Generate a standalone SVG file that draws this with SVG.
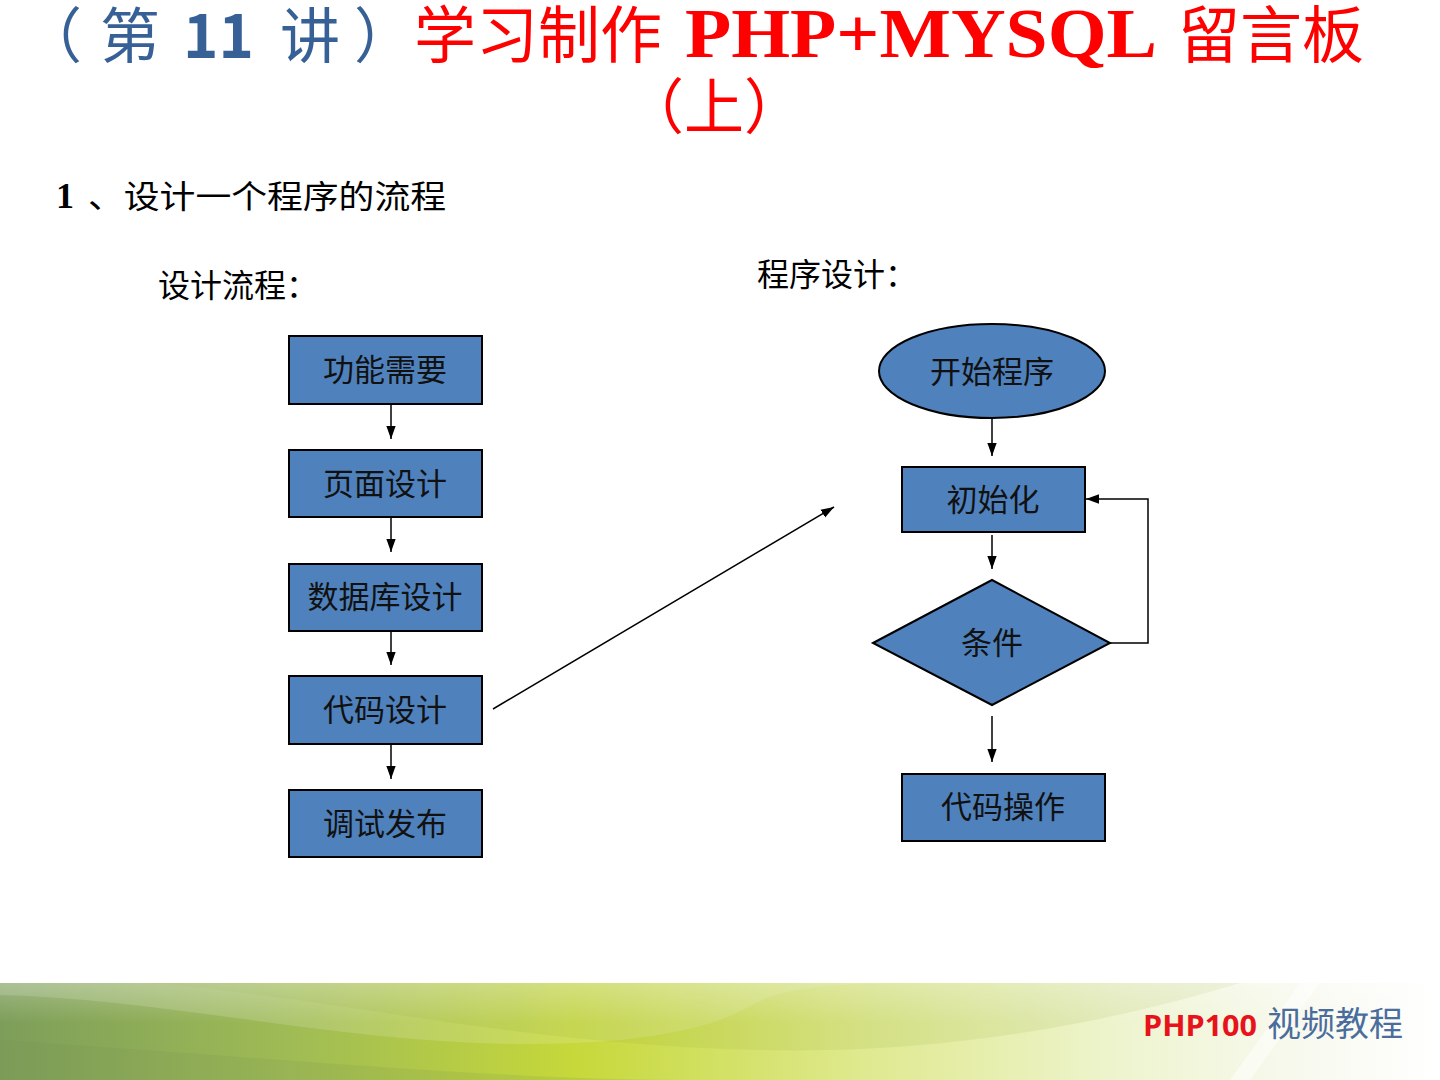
<svg xmlns="http://www.w3.org/2000/svg" width="1440" height="1080" viewBox="0 0 1440 1080">
<defs>
<style>
.box{fill:#4f81bd;stroke:#000;stroke-width:2}
.lbl{font-family:"Noto Sans CJK SC",sans-serif;font-size:31px;fill:#111;text-anchor:middle}
.conn{stroke:#000;stroke-width:1.5;fill:none}
.cjk{font-family:"Noto Sans CJK SC",sans-serif}
</style>
<marker id="ah" viewBox="0 0 14 10" refX="14" refY="5" markerWidth="13" markerHeight="10" markerUnits="userSpaceOnUse" orient="auto">
<path d="M0,0 L14,5 L0,10 z" fill="#000"/>
</marker>
<linearGradient id="band" x1="0" y1="0" x2="1" y2="0">
<stop offset="0" stop-color="#7d9e5a"/>
<stop offset="0.2" stop-color="#9fbb55"/>
<stop offset="0.4" stop-color="#c6d83a"/>
<stop offset="0.6" stop-color="#dfe98f"/>
<stop offset="0.78" stop-color="#eef4cf"/>
<stop offset="0.9" stop-color="#f7f9ee"/>
<stop offset="1" stop-color="#ffffff"/>
</linearGradient>
<linearGradient id="fadeV" x1="0" y1="0" x2="0" y2="1">
<stop offset="0" stop-color="#ffffff" stop-opacity="0.25"/>
<stop offset="1" stop-color="#ffffff" stop-opacity="0"/>
</linearGradient>
</defs>
<rect width="1440" height="1080" fill="#fff"/>

<g id="title">
<text y="58" class="cjk" font-size="60" fill="#376196"><tspan x="22">（</tspan><tspan x="100">第</tspan><tspan x="183" font-weight="bold">11</tspan><tspan x="280">讲</tspan><tspan x="354">）</tspan></text>
<text y="58" class="cjk" font-size="62" fill="#ff0000" x="414">学习制作</text>
<text y="57" font-family="Liberation Serif, serif" font-weight="bold" font-size="70" fill="#ff0000" x="685" textLength="472" lengthAdjust="spacingAndGlyphs">PHP+MYSQL</text>
<text y="58" class="cjk" font-size="62" fill="#ff0000" x="1178">留言板</text>
<text y="129" class="cjk" font-size="60" fill="#ff0000" x="714" text-anchor="middle">（上）</text>
</g>

<g id="headings">
<text x="56" y="208" font-family="Liberation Serif, serif" font-weight="bold" font-size="36" fill="#000">1</text>
<text x="88" y="208" class="cjk" font-size="32" fill="#000" textLength="358" lengthAdjust="spacingAndGlyphs">、设计一个程序的流程</text>
<text x="158" y="297" class="cjk" font-size="32" fill="#000">设计流程：</text>
<text x="757" y="286" class="cjk" font-size="32" fill="#000">程序设计：</text>
</g>

<g id="n1"><rect class="box" x="289" y="336" width="193" height="68"/><text class="lbl" x="385" y="381">功能需要</text></g>
<g id="n2"><rect class="box" x="289" y="450" width="193" height="67"/><text class="lbl" x="385" y="495">页面设计</text></g>
<g id="n3"><rect class="box" x="289" y="564" width="193" height="67"/><text class="lbl" x="385" y="608">数据库设计</text></g>
<g id="n4"><rect class="box" x="289" y="676" width="193" height="68"/><text class="lbl" x="385" y="721">代码设计</text></g>
<g id="n5"><rect class="box" x="289" y="790" width="193" height="67"/><text class="lbl" x="385" y="835">调试发布</text></g>

<g id="r1"><ellipse class="box" cx="992" cy="371" rx="113" ry="47"/><text class="lbl" x="992" y="383">开始程序</text></g>
<g id="r2"><rect class="box" x="902" y="467" width="183" height="65"/><text class="lbl" x="993" y="511">初始化</text></g>
<g id="r3"><polygon class="box" points="873,643 992,580 1110,643 992,705"/><text class="lbl" x="992" y="654">条件</text></g>
<g id="r4"><rect class="box" x="902" y="774" width="203" height="67"/><text class="lbl" x="1003" y="818">代码操作</text></g>

<g id="connectors">
<line class="conn" x1="391" y1="404" x2="391" y2="439" marker-end="url(#ah)"/>
<line class="conn" x1="391" y1="517" x2="391" y2="552" marker-end="url(#ah)"/>
<line class="conn" x1="391" y1="631" x2="391" y2="665" marker-end="url(#ah)"/>
<line class="conn" x1="391" y1="744" x2="391" y2="779" marker-end="url(#ah)"/>
<line class="conn" x1="493" y1="709" x2="834" y2="507" marker-end="url(#ah)"/>
<line class="conn" x1="992" y1="419" x2="992" y2="456" marker-end="url(#ah)"/>
<line class="conn" x1="992" y1="535" x2="992" y2="569" marker-end="url(#ah)"/>
<line class="conn" x1="992" y1="716" x2="992" y2="762" marker-end="url(#ah)"/>
<polyline class="conn" points="1110,643 1148,643 1148,499 1086,499" marker-end="url(#ah)"/>
</g>

<g id="footer">
<rect x="0" y="983" width="1440" height="97" fill="url(#band)"/>
<path d="M0,995 C200,1000 400,1060 620,1040 C800,1020 700,985 900,983 L0,983 z" fill="#ffffff" opacity="0.15"/>
<path d="M150,983 C350,1000 520,1045 760,1050 C980,1055 1150,1010 1240,983 z" fill="#8aa830" opacity="0.12"/>
<path d="M0,1040 C300,1060 500,1080 700,1080 L0,1080 z" fill="#6f9050" opacity="0.15"/>
<path d="M1230,1080 L1300,983 L1320,983 L1250,1080 z" fill="#ffffff" opacity="0.5"/>
<rect x="0" y="983" width="1440" height="40" fill="url(#fadeV)"/>
<text x="1143" y="1036" font-family="Open Sans, sans-serif" font-weight="bold" font-size="28" fill="#e8121a" textLength="114" lengthAdjust="spacingAndGlyphs">PHP100</text>
<text x="1267" y="1036" class="cjk" font-size="34" fill="#4a6d9c">视频教程</text>
</g>
</svg>
